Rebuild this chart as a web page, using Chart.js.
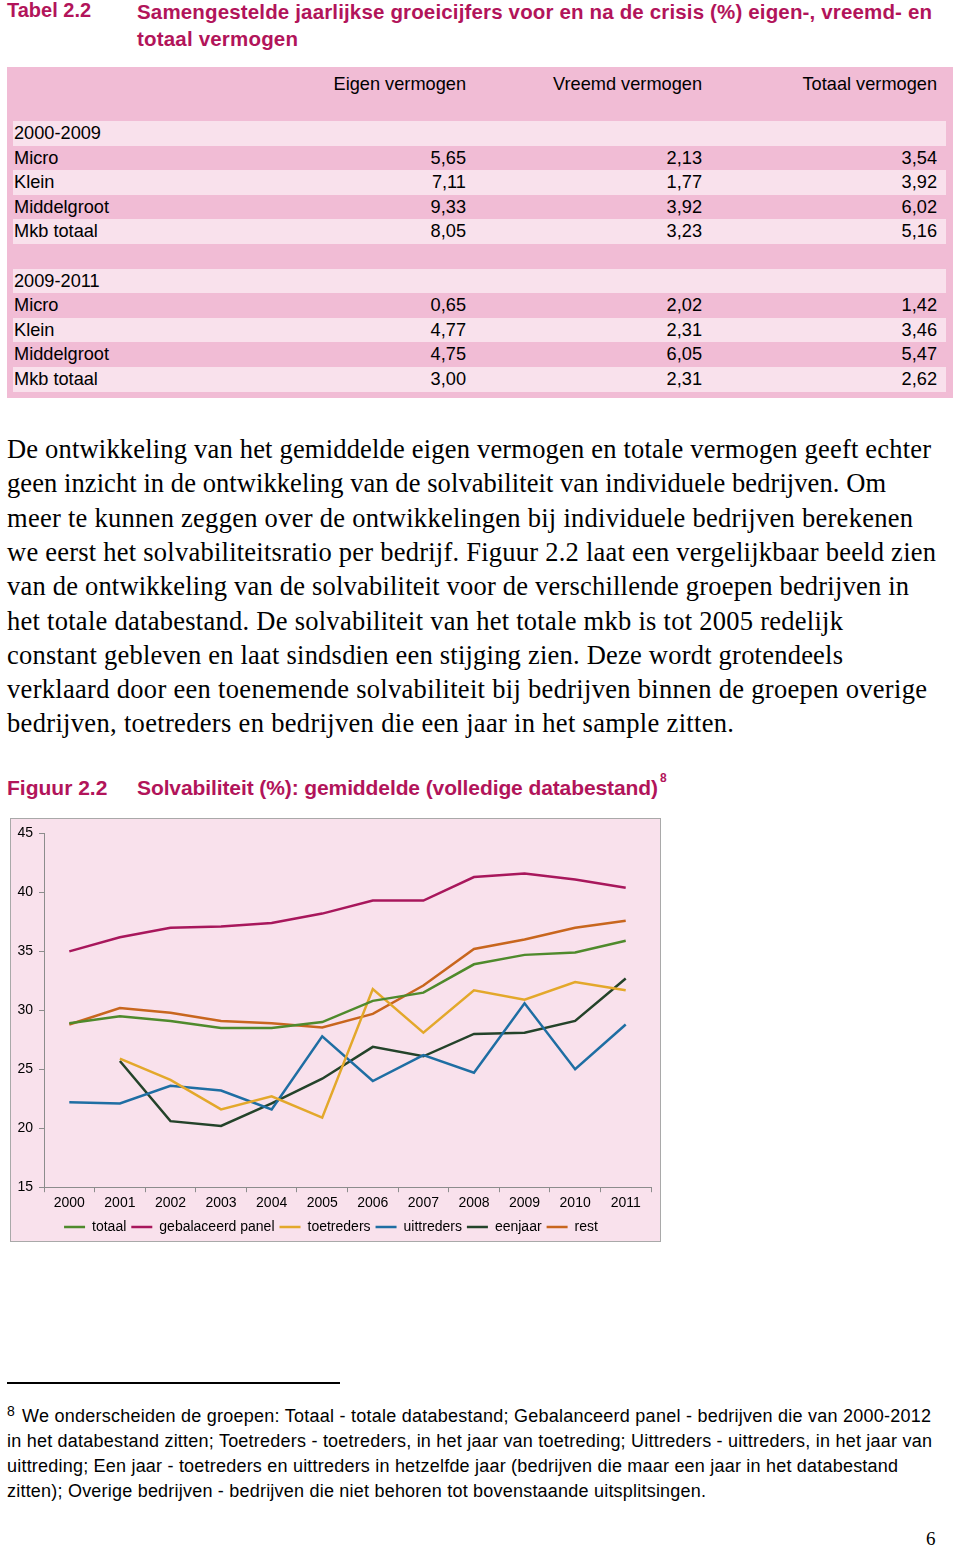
<!DOCTYPE html>
<html>
<head>
<meta charset="utf-8">
<script src="https://cdn.jsdelivr.net/npm/chart.js@4"></script>
<style>
  body { margin: 0; width: 960px; height: 1550px; position: relative; background: #fff; font-family: "Liberation Sans", Arial, sans-serif; color: #000; overflow: hidden; }
  .abs { position: absolute; white-space: nowrap; }
  .red { color: #b2145a; font-weight: bold; }
  .fit { display: inline-block; }
  #tbl { position: absolute; left: 7px; top: 67px; width: 946px; height: 331px; background: #f1bcd5; }
  .row { position: absolute; left: 6px; width: 933px; height: 24.6px; line-height: 24.6px; font-size: 18.2px; }
  .row.light { background: #f9e1ec; }
  .cell { position: absolute; top: 0; text-align: right; }
  .para { position: absolute; left: 7px; font-family: "Liberation Serif", serif; font-size: 26.5px; line-height: 34.3px; white-space: nowrap; }
  .foot { position: absolute; left: 7px; font-size: 18px; line-height: 25px; white-space: nowrap; }
  #chartBox { position: absolute; left: 10px; top: 818px; width: 651px; height: 424px; border: 1px solid #a9a9a9; background: #f9e1ec; box-sizing: border-box; }
</style>
</head>
<body>

<div class="abs red" style="left:7px;top:-2px;font-size:20px;line-height:24px;">Tabel 2.2</div>
<div class="abs red" style="left:137px;top:-2px;font-size:20.5px;line-height:27px;">
  <span class="fit" data-w="795">Samengestelde jaarlijkse groeicijfers voor en na de crisis (%) eigen-, vreemd- en</span><br>
  <span class="fit" data-w="161">totaal vermogen</span>
</div>

<div id="tbl"></div>

<div id="para"></div>

<div class="abs red" style="left:7px;top:776px;font-size:21px;line-height:24px;">Figuur 2.2</div>
<div class="abs red" style="left:137px;top:776px;font-size:21px;line-height:24px;"><span class="fit" data-w="521">Solvabiliteit (%): gemiddelde (volledige databestand)</span></div>
<div class="abs red" style="left:660px;top:771px;font-size:12px;line-height:14px;">8</div>

<div id="chartBox"><canvas id="solv" width="649" height="422"></canvas></div>

<div class="abs" style="left:7px;top:1382px;width:333px;height:1.5px;background:#000;"></div>
<div id="foot"></div>

<div class="abs" style="left:926px;top:1528px;font-family:'Liberation Serif',serif;font-size:19px;">6</div>

<script>
// table 2.2
var tableCols = ['Eigen vermogen', 'Vreemd vermogen', 'Totaal vermogen'];
var tableLabels = ['2000-2009', 'Micro', 'Klein', 'Middelgroot', 'Mkb totaal', '', '2009-2011', 'Micro', 'Klein', 'Middelgroot', 'Mkb totaal'];
var eigenVermogen  = ['', '5,65', '7,11', '9,33', '8,05', '', '', '0,65', '4,77', '4,75', '3,00'];
var vreemdVermogen = ['', '2,13', '1,77', '3,92', '3,23', '', '', '2,02', '2,31', '6,05', '2,31'];
var totaalVermogen = ['', '3,54', '3,92', '6,02', '5,16', '', '', '1,42', '3,46', '5,47', '2,62'];

// figuur 2.2
var years = ['2000', '2001', '2002', '2003', '2004', '2005', '2006', '2007', '2008', '2009', '2010', '2011'];
var seriesNames = ['totaal', 'gebalaceerd panel', 'toetreders', 'uittreders', 'eenjaar', 'rest'];
var totaal       = [28.9, 29.5, 29.1, 28.5, 28.5, 29.0, 30.8, 31.5, 33.9, 34.7, 34.9, 35.9];
var gebalanceerd = [35.0, 36.2, 37.0, 37.1, 37.4, 38.2, 39.3, 39.3, 41.3, 41.6, 41.1, 40.4];
var toetreders   = [null, 25.9, 24.1, 21.6, 22.7, 20.9, 31.8, 28.1, 31.7, 30.9, 32.4, 31.7];
var uittreders   = [22.2, 22.1, 23.6, 23.2, 21.6, 27.8, 24.0, 26.2, 24.7, 30.6, 25.0, 28.8];
var eenjaar      = [null, 25.7, 20.6, 20.2, 22.1, 24.2, 26.9, 26.1, 28.0, 28.1, 29.1, 32.7];
var rest         = [28.8, 30.2, 29.8, 29.1, 28.9, 28.55, 29.7, 32.1, 35.2, 36.0, 37.0, 37.6];

var paraLines = [
  ['De ontwikkeling van het gemiddelde eigen vermogen en totale vermogen geeft echter', 924],
  ['geen inzicht in de ontwikkeling van de solvabiliteit van individuele bedrijven. Om', 879],
  ['meer te kunnen zeggen over de ontwikkelingen bij individuele bedrijven berekenen', 906],
  ['we eerst het solvabiliteitsratio per bedrijf. Figuur 2.2 laat een vergelijkbaar beeld zien', 929],
  ['van de ontwikkeling van de solvabiliteit voor de verschillende groepen bedrijven in', 902],
  ['het totale databestand. De solvabiliteit van het totale mkb is tot 2005 redelijk', 836],
  ['constant gebleven en laat sindsdien een stijging zien. Deze wordt grotendeels', 836],
  ['verklaard door een toenemende solvabiliteit bij bedrijven binnen de groepen overige', 920],
  ['bedrijven, toetreders en bedrijven die een jaar in het sample zitten.', 727]
];

var footLines = [
  ['We onderscheiden de groepen: Totaal - totale databestand; Gebalanceerd panel - bedrijven die van 2000-2012', 909],
  ['in het databestand zitten; Toetreders - toetreders, in het jaar van toetreding; Uittreders - uittreders, in het jaar van', 925],
  ['uittreding; Een jaar - toetreders en uittreders in hetzelfde jaar (bedrijven die maar een jaar in het databestand', 891],
  ['zitten); Overige bedrijven - bedrijven die niet behoren tot bovenstaande uitsplitsingen.', 699]
];

function buildTable(){
  var tbl = document.getElementById('tbl');
  var rights = [466, 702, 937]; // right edges on the page
  var html = '';
  for (let i = 0; i < tableCols.length; i++) {
    html += '<div class="cell" style="top:5px;right:' + (953 - rights[i]) + 'px;font-size:18.2px;line-height:24px;">' + tableCols[i] + '</div>';
  }
  for (let i = 0; i < tableLabels.length; i++) {
    var cls = (i % 2 == 0) ? 'row light' : 'row';
    var top = 54 + i * 24.6;
    var vals = [eigenVermogen[i], vreemdVermogen[i], totaalVermogen[i]];
    html += '<div class="' + cls + '" style="top:' + top + 'px">';
    html += '<div class="cell" style="left:1px;text-align:left">' + tableLabels[i] + '</div>';
    for (let j = 0; j < vals.length; j++) {
      html += '<div class="cell" style="right:' + (946 - rights[j]) + 'px">' + vals[j] + '</div>';
    }
    html += '</div>';
  }
  tbl.innerHTML = html;
}

function buildText(){
  var p = document.getElementById('para');
  var html = '';
  for (let i = 0; i < paraLines.length; i++) {
    html += '<div class="para" style="top:' + (432 + i * 34.3) + 'px"><span class="fit" data-w="' + paraLines[i][1] + '">' + paraLines[i][0] + '</span></div>';
  }
  p.innerHTML = html;

  var f = document.getElementById('foot');
  html = '<div class="foot" style="top:1404px;font-size:14px;line-height:14px;">8</div>';
  for (let i = 0; i < footLines.length; i++) {
    var left = (i == 0) ? 22 : 7;
    html += '<div class="foot" style="left:' + left + 'px;top:' + (1404 + i * 25) + 'px"><span class="fit" data-w="' + footLines[i][1] + '">' + footLines[i][0] + '</span></div>';
  }
  f.innerHTML = html;
}

// nudge letter spacing so each line ends where the page line ends
function fitLines(){
  var spans = document.querySelectorAll('.fit[data-w]');
  spans.forEach(function(s){
    var target = parseFloat(s.dataset.w);
    var w = s.getBoundingClientRect().width;
    var n = s.textContent.length - 1;
    if (n > 0) s.style.letterSpacing = ((target - w) / n) + 'px';
  });
}

buildTable();
buildText();
fitLines();

var colors = ['#4f8a2c', '#a8175c', '#e3a82b', '#1f6ea3', '#24432a', '#c8661e'];
var values = [totaal, gebalanceerd, toetreders, uittreders, eenjaar, rest];
var datasets = [];
for (let i = 0; i < seriesNames.length; i++) {
  datasets.push({
    label: seriesNames[i],
    data: values[i],
    borderColor: colors[i],
    backgroundColor: colors[i],
    borderWidth: 2.5,
    pointRadius: 0,
    tension: 0,
    fill: false
  });
}

Chart.defaults.font.family = '"Liberation Sans", Arial, sans-serif';
Chart.defaults.font.size = 14;
Chart.defaults.color = '#000';

var chart = new Chart(document.getElementById('solv').getContext('2d'), {
  type: 'line',
  data: { labels: years, datasets: datasets },
  options: {
    responsive: false,
    animation: false,
    devicePixelRatio: 1,
    layout: { padding: { top: 11, right: 9, bottom: -3, left: 0 } },
    plugins: {
      legend: {
        position: 'bottom',
        labels: {
          usePointStyle: true,
          pointStyle: 'line',
          pointStyleWidth: 21,
          boxHeight: 3,
          padding: 5,
          color: '#000'
        }
      },
      tooltip: { enabled: false }
    },
    scales: {
      x: {
        offset: true,
        grid: { offset: true, drawOnChartArea: false, tickLength: 5, color: '#8c8c8c' },
        border: { color: '#8c8c8c' },
        ticks: { padding: 3, maxRotation: 0 }
      },
      y: {
        min: 15,
        max: 45,
        afterFit: function(scale){ scale.width = 33; },
        grid: { drawOnChartArea: false, tickLength: 5, color: '#8c8c8c' },
        border: { color: '#8c8c8c' },
        ticks: { stepSize: 5, padding: 6 }
      }
    }
  }
});
</script>
</body>
</html>
